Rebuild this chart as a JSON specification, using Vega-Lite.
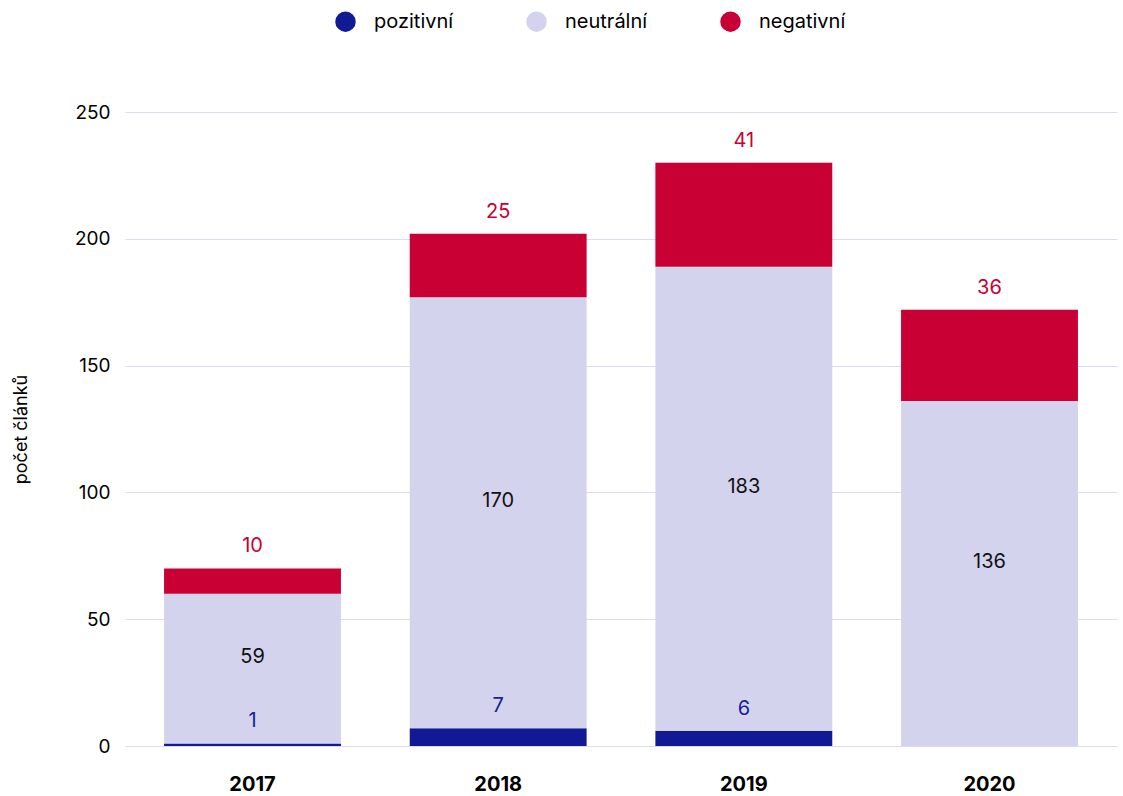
{
  "$schema": "https://vega.github.io/schema/vega-lite/v6.json",
  "width": 992,
  "height": 634,
  "autosize": {"type": "none"},
  "padding": {"left": 125, "top": 112, "right": 6, "bottom": 50},
  "background": "white",
  "config": {
    "font": "Inter",
    "view": {"stroke": null},
    "axis": {"labelFont": "Inter", "titleFont": "Inter"},
    "legend": {"labelFont": "Inter"}
  },
  "data": {
    "values": [
      {"year": "2017", "cat": "pozitivní", "value": 1},
      {"year": "2017", "cat": "neutrální", "value": 59},
      {"year": "2017", "cat": "negativní", "value": 10},
      {"year": "2018", "cat": "pozitivní", "value": 7},
      {"year": "2018", "cat": "neutrální", "value": 170},
      {"year": "2018", "cat": "negativní", "value": 25},
      {"year": "2019", "cat": "pozitivní", "value": 6},
      {"year": "2019", "cat": "neutrální", "value": 183},
      {"year": "2019", "cat": "negativní", "value": 41},
      {"year": "2020", "cat": "pozitivní", "value": 0},
      {"year": "2020", "cat": "neutrální", "value": 136},
      {"year": "2020", "cat": "negativní", "value": 36}
    ]
  },
  "transform": [
    {"stack": "value", "groupby": ["year"], "sort": [{"field": "cat", "order": "descending"}], "as": ["s0", "s1"]}
  ],
  "encoding": {
    "x": {
      "field": "year", "type": "nominal",
      "scale": {"paddingInner": 0.28, "paddingOuter": 0.159},
      "axis": {"title": null, "labelAngle": 0, "labelFontSize": 20, "labelFontWeight": "bold", "labelColor": "#000", "labelPadding": 28, "ticks": false, "domain": false}
    }
  },
  "layer": [
    {
      "mark": {"type": "bar"},
      "encoding": {
        "y": {
          "field": "s1", "type": "quantitative",
          "scale": {"domain": [0, 250], "nice": false, "zero": true},
          "axis": {"title": "počet článků", "titleFontSize": 18, "titleFontWeight": "normal", "titleColor": "#000", "titlePadding": 44, "values": [0, 50, 100, 150, 200, 250], "labelFontSize": 19, "labelColor": "#000", "labelPadding": 15, "ticks": false, "domain": false, "gridColor": "#dcdaf1", "gridWidth": 1.2}
        },
        "y2": {"field": "s0"},
        "color": {
          "field": "cat", "type": "nominal",
          "scale": {"domain": ["pozitivní", "neutrální", "negativní"], "range": ["#111a94", "#d4d3ee", "#c80033"]},
          "legend": {"title": null, "orient": "none", "direction": "horizontal", "legendX": 210, "legendY": -101, "symbolType": "circle", "symbolSize": 420, "symbolStrokeWidth": 0, "labelFontSize": 20, "labelColor": "#000", "labelOffset": 18, "columnPadding": 72}
        }
      }
    },
    {
      "transform": [{"filter": "datum.cat === 'pozitivní' && datum.value > 0"}],
      "mark": {"type": "text", "fontSize": 20, "dy": -22, "color": "#1a2096"},
      "encoding": {
        "y": {"field": "s1", "type": "quantitative", "scale": {"domain": [0, 250], "nice": false}},
        "text": {"field": "value", "type": "quantitative"}
      }
    },
    {
      "transform": [{"filter": "datum.cat === 'negativní'"}],
      "mark": {"type": "text", "fontSize": 20, "dy": -22, "color": "#c80033"},
      "encoding": {
        "y": {"field": "s1", "type": "quantitative", "scale": {"domain": [0, 250], "nice": false}},
        "text": {"field": "value", "type": "quantitative"}
      }
    },
    {
      "transform": [
        {"filter": "datum.cat === 'neutrální'"},
        {"fold": ["s0", "s1"], "as": ["k", "pos"]}
      ],
      "mark": {"type": "text", "fontSize": 20, "dy": -12, "color": "#111"},
      "encoding": {
        "y": {"field": "pos", "aggregate": "mean", "type": "quantitative", "scale": {"domain": [0, 250], "nice": false}},
        "text": {"field": "value", "type": "quantitative"}
      }
    }
  ]
}
